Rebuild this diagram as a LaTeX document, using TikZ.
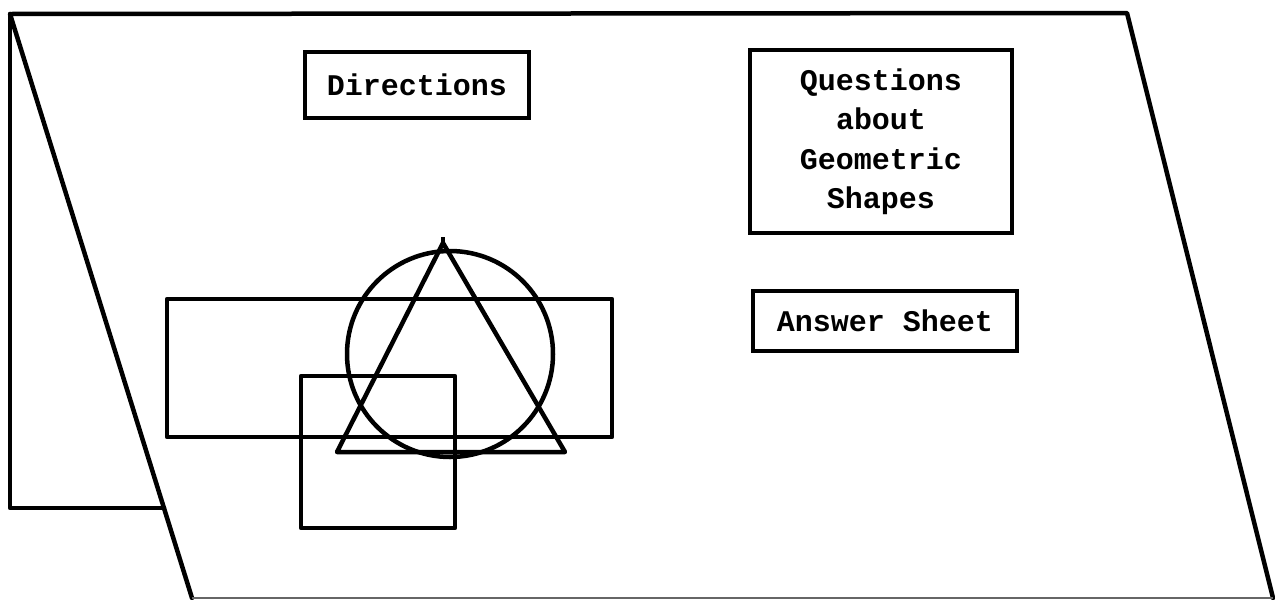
\documentclass[tikz,border=0pt]{standalone}
\usepackage{fontspec}
\newfontfamily\typ{Liberation Mono}
\tikzset{
  edge/.style={line width=4.5pt, line join=round, line cap=round},
  figline/.style={line width=4.5pt, line join=round},
  lbl/.style={draw, line width=3.8pt, font=\typ\bfseries\fontsize{30}{39.5}\selectfont, align=center, inner sep=0pt}
}
\begin{document}
\begin{tikzpicture}[x=1pt,y=-1pt]
\useasboundingbox[fill=white] (0,0) rectangle (1275,600);
% panel corners
\coordinate (TL) at (10,14);
\coordinate (TR) at (1127,13);
\coordinate (BR) at (1273,598);
\coordinate (BL) at (192,598);
\coordinate (PB) at (10,508);
\coordinate (PH) at (164,508);
% back panel
\draw[edge] (TL) -- (PB) -- (PH);
% front panel
\draw[edge] (BL) -- (TL) -- (TR) -- (BR);
\draw[line width=1.5pt, black!60] (BL) -- (BR);
% label boxes
\node[lbl, minimum width=224pt, minimum height=66pt] (dir) at (417,85) {Directions};
\node[lbl, minimum width=262pt, minimum height=183pt] (que) at (881,141.5) {Questions\\ about\\Geometric\\Shapes};
\node[lbl, minimum width=264pt, minimum height=60pt] (ans) at (885,321) {Answer Sheet};
% geometric shapes
\draw[figline] (167,299) rectangle (612,437);
\draw[figline] (301,376) rectangle (455,528);
\draw[figline] (450,354) circle[radius=103];
\draw[figline] (443,243) -- (337,452) -- (565,452) -- cycle;
\draw[figline] (443,243) -- (443,237);
\end{tikzpicture}
\end{document}
